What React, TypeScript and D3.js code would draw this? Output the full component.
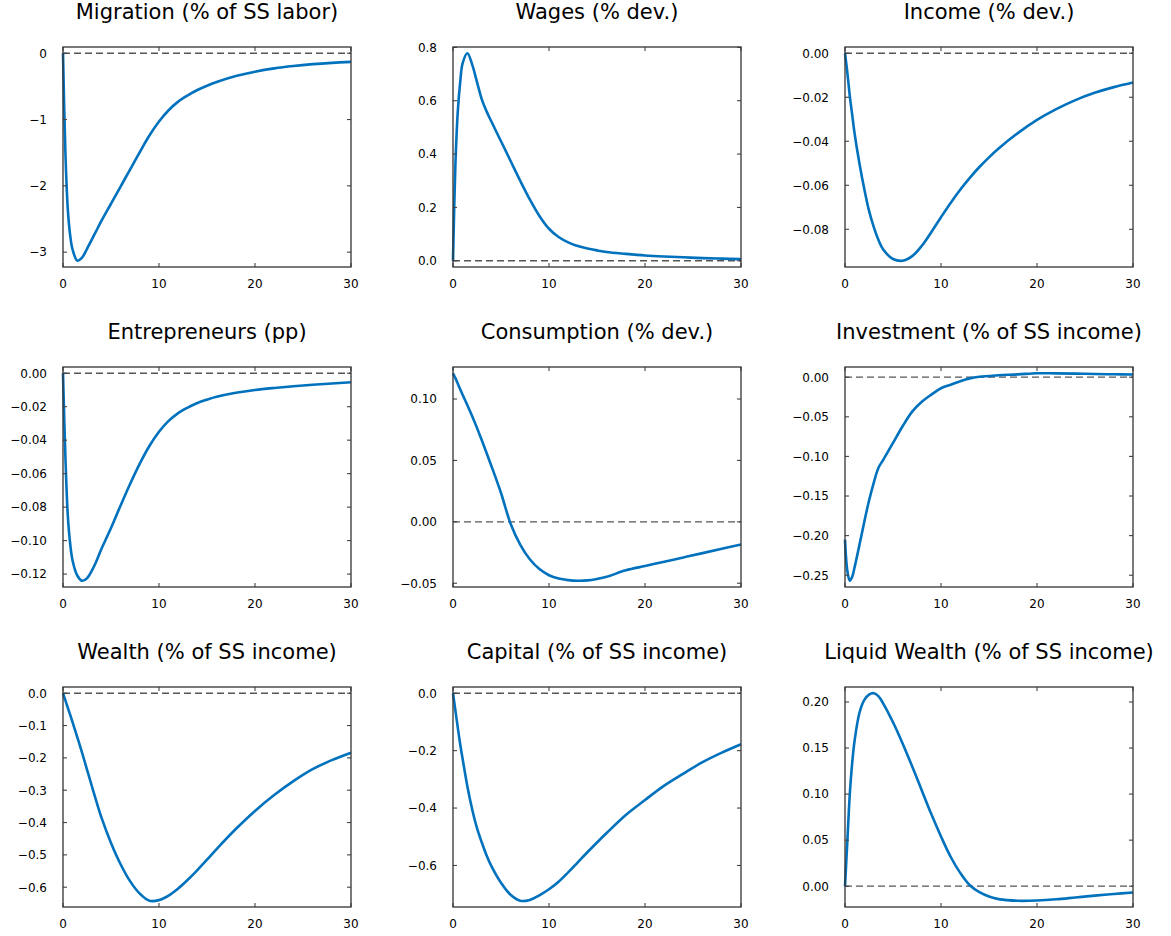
import React from "react";
import * as d3 from "d3";

// ---------- data ----------
const T = [0, 0.25, 0.5, 0.75, 1, 1.5, 2, 2.5, 3, 3.5, 4, 5, 6, 7, 8, 9, 10, 11, 12, 13, 14, 15, 16, 18, 20, 22, 24, 26, 28, 30];

const migration = [0, -1.5, -2.35, -2.75, -2.96, -3.13, -3.08, -2.95, -2.81, -2.67, -2.53, -2.27, -2.01, -1.75, -1.49, -1.24, -1.03, -0.86, -0.73, -0.635, -0.555, -0.49, -0.435, -0.345, -0.278, -0.228, -0.192, -0.165, -0.145, -0.13];
const wages = [0, 0.36, 0.56, 0.67, 0.74, 0.778, 0.735, 0.67, 0.605, 0.56, 0.522, 0.448, 0.374, 0.3, 0.23, 0.168, 0.12, 0.089, 0.069, 0.055, 0.046, 0.039, 0.033, 0.026, 0.02, 0.016, 0.013, 0.01, 0.008, 0.006];
const income = [0, -0.009, -0.0195, -0.028, -0.0365, -0.05, -0.0615, -0.0715, -0.079, -0.085, -0.0893, -0.0935, -0.0943, -0.0922, -0.0875, -0.0812, -0.0745, -0.068, -0.062, -0.0566, -0.0517, -0.0473, -0.0433, -0.0363, -0.0303, -0.0254, -0.0213, -0.018, -0.0154, -0.0133];
const entrepreneurs = [0, -0.05, -0.085, -0.102, -0.112, -0.121, -0.124, -0.1225, -0.118, -0.112, -0.105, -0.0925, -0.079, -0.066, -0.054, -0.0435, -0.035, -0.0285, -0.0238, -0.0205, -0.0178, -0.0158, -0.0141, -0.0117, -0.01, -0.0088, -0.0078, -0.0069, -0.0061, -0.0054];
const consumption = [0.121, 0.117, 0.1125, 0.108, 0.1035, 0.095, 0.086, 0.0765, 0.0665, 0.056, 0.0455, 0.0235, -0.0015, -0.0185, -0.0305, -0.0385, -0.0435, -0.0462, -0.0475, -0.048, -0.0477, -0.0465, -0.0448, -0.0395, -0.036, -0.0325, -0.029, -0.0255, -0.022, -0.0185];
const investment = [-0.205, -0.245, -0.257, -0.252, -0.24, -0.212, -0.183, -0.156, -0.133, -0.114, -0.104, -0.083, -0.062, -0.0435, -0.031, -0.022, -0.014, -0.0095, -0.005, -0.0015, 0.0005, 0.0015, 0.0025, 0.0035, 0.005, 0.0048, 0.0045, 0.004, 0.0037, 0.0034];
const wealth = [0, -0.022, -0.045, -0.067, -0.09, -0.137, -0.185, -0.236, -0.287, -0.337, -0.384, -0.463, -0.529, -0.582, -0.62, -0.642, -0.64, -0.626, -0.604, -0.577, -0.547, -0.515, -0.482, -0.42, -0.364, -0.315, -0.272, -0.235, -0.207, -0.184];
const capital = [0, -0.06, -0.12, -0.178, -0.228, -0.325, -0.405, -0.47, -0.52, -0.565, -0.602, -0.66, -0.702, -0.723, -0.72, -0.704, -0.683, -0.657, -0.624, -0.589, -0.554, -0.52, -0.487, -0.424, -0.372, -0.322, -0.28, -0.24, -0.207, -0.1775];
const liquidWealth = [0, 0.05, 0.1, 0.134, 0.158, 0.188, 0.202, 0.208, 0.2095, 0.206, 0.198, 0.178, 0.155, 0.13, 0.104, 0.078, 0.054, 0.032, 0.0145, 0.001, -0.0065, -0.0112, -0.014, -0.0158, -0.0155, -0.0142, -0.0122, -0.0102, -0.0085, -0.0068];

const TITLES = [
  "Migration (% of SS labor)",
  "Wages (% dev.)",
  "Income (% dev.)",
  "Entrepreneurs (pp)",
  "Consumption (% dev.)",
  "Investment (% of SS income)",
  "Wealth (% of SS income)",
  "Capital (% of SS income)",
  "Liquid Wealth (% of SS income)",
];
const SERIES = [migration, wages, income, entrepreneurs, consumption, investment, wealth, capital, liquidWealth];

const Y_TICK_LABELS = [
  ["0", "−1", "−2", "−3"],
  ["0.0", "0.2", "0.4", "0.6", "0.8"],
  ["0.00", "−0.02", "−0.04", "−0.06", "−0.08"],
  ["0.00", "−0.02", "−0.04", "−0.06", "−0.08", "−0.10", "−0.12"],
  ["0.10", "0.05", "0.00", "−0.05"],
  ["0.00", "−0.05", "−0.10", "−0.15", "−0.20", "−0.25"],
  ["0.0", "−0.1", "−0.2", "−0.3", "−0.4", "−0.5", "−0.6"],
  ["0.0", "−0.2", "−0.4", "−0.6"],
  ["0.00", "0.05", "0.10", "0.15", "0.20"],
];
const X_TICKS = [0, 10, 20, 30];

// ---------- layout ----------
const WIDTH = 1171;
const HEIGHT = 936;
const COL_LEFT = [63, 453, 845];
const ROW_TOP = [47, 367, 687];
const PW = 288;
const PH = 220;
const FONT = "DejaVu Sans, Verdana, sans-serif";
const BLUE = "#0072BD";

function Panel({ idx }: { idx: number }) {
  const col = idx % 3;
  const row = Math.floor(idx / 3);
  const left = COL_LEFT[col];
  const top = ROW_TOP[row];
  const values = SERIES[idx];
  const lo = Math.min(0, d3.min(values) as number);
  const hi = Math.max(0, d3.max(values) as number);
  const pad = (hi - lo) * 0.03;
  const x = d3.scaleLinear().domain([0, 30]).range([left, left + PW]);
  const y = d3.scaleLinear().domain([lo - pad, hi + pad]).range([top + PH, top]);
  const line = d3
    .line<number>()
    .x((_, i) => x(T[i]))
    .y((v) => y(v))
    .curve(d3.curveCatmullRom.alpha(0.5));
  const yTicks = Y_TICK_LABELS[idx].map((s) => ({ label: s, v: parseFloat(s.replace("−", "-")) }));
  const tickLen = 4;
  return (
    <g>
      <text
        x={left + PW / 2}
        y={top - 28.5}
        textAnchor="middle"
        fontFamily={FONT}
        fontSize={21}
        fill="#000"
      >
        {TITLES[idx]}
      </text>
      <line
        x1={left}
        x2={left + PW}
        y1={y(0)}
        y2={y(0)}
        stroke="#555"
        strokeWidth={1.3}
        strokeDasharray="7,4"
      />
      <path d={line(values) || ""} fill="none" stroke={BLUE} strokeWidth={2.6} strokeLinejoin="round" />
      {yTicks.map((t) => (
        <g key={"y" + t.label}>
          <line x1={left} x2={left + tickLen} y1={y(t.v)} y2={y(t.v)} stroke="#444" strokeWidth={1.1} />
          <line x1={left + PW - tickLen} x2={left + PW} y1={y(t.v)} y2={y(t.v)} stroke="#444" strokeWidth={1.1} />
          <text
            x={left - 16}
            y={y(t.v)}
            dy="0.36em"
            textAnchor="end"
            fontFamily={FONT}
            fontSize={12}
            fill="#000"
          >
            {t.label}
          </text>
        </g>
      ))}
      {X_TICKS.map((v) => (
        <g key={"x" + v}>
          <line x1={x(v)} x2={x(v)} y1={top + PH} y2={top + PH - tickLen} stroke="#444" strokeWidth={1.1} />
          <line x1={x(v)} x2={x(v)} y1={top} y2={top + tickLen} stroke="#444" strokeWidth={1.1} />
          <text
            x={x(v)}
            y={top + PH + 21}
            textAnchor="middle"
            fontFamily={FONT}
            fontSize={12}
            fill="#000"
          >
            {v}
          </text>
        </g>
      ))}
      <rect x={left} y={top} width={PW} height={PH} fill="none" stroke="#333" strokeWidth={1.3} />
    </g>
  );
}

export default function App() {
  return (
    <div style={{ position: "absolute", left: 0, top: 0 }}>
      <svg width={WIDTH} height={HEIGHT} style={{ display: "block", background: "#fff" }}>
        {SERIES.map((_, i) => (
          <Panel key={i} idx={i} />
        ))}
      </svg>
    </div>
  );
}
